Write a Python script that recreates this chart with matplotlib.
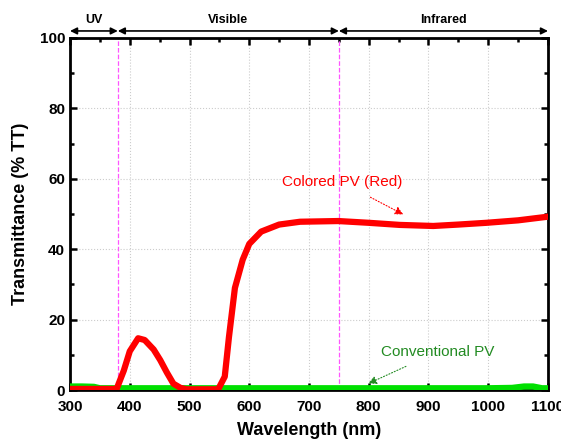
import matplotlib
matplotlib.use("Agg")
from matplotlib import pyplot as plt
from matplotlib.ticker import MultipleLocator

plt.rcParams['font.family'] = ['Liberation Sans', 'DejaVu Sans']

# Colored PV (red) transmittance
red_wl = [300, 340, 378, 390, 400, 414, 425, 440, 451, 462, 473, 485, 495, 520, 548,
          559, 566, 576, 589, 600, 620, 650, 685, 749, 800, 852, 908, 950, 997, 1050, 1098]
red_t = [0.3, 0.3, 0.3, 5.5, 11.0, 14.7, 14.2, 11.5, 8.5, 5.0, 1.8, 0.6, 0.2, 0.2, 0.2,
         3.8, 15.0, 29.0, 37.0, 41.5, 45.0, 47.0, 47.8, 48.0, 47.5, 46.9, 46.6, 47.0, 47.5, 48.2, 49.2]

# Conventional PV (green)
green_wl = [300, 320, 340, 350, 400, 500, 600, 700, 800, 900, 1000, 1040, 1060, 1075, 1090, 1100]
green_t = [1.0, 1.0, 0.9, 0.5, 0.5, 0.5, 0.5, 0.5, 0.5, 0.5, 0.5, 0.6, 1.0, 1.0, 0.5, 0.5]

band_edges = [300, 380, 750, 1100]
band_names = ['UV', 'Visible', 'Infrared']

fig = plt.figure(figsize=(5.61, 4.47), dpi=100)
ax = fig.add_axes([0.1248, 0.1275, 0.852, 0.7875])

ax.plot(green_wl, green_t, color='#00e000', lw=4.5, zorder=3)
ax.plot(red_wl, red_t, color='#ff0000', lw=4.5, zorder=4)

for edge in band_edges[1:3]:
    ax.axvline(edge, color='#ff55ff', ls='--', lw=0.9, zorder=2)

ax.set_xlim(300, 1100)
ax.set_ylim(0, 100)
ax.xaxis.set_major_locator(MultipleLocator(100))
ax.xaxis.set_minor_locator(MultipleLocator(50))
ax.yaxis.set_major_locator(MultipleLocator(20))
ax.yaxis.set_minor_locator(MultipleLocator(10))
ax.tick_params(which='both', direction='in', top=True, right=True, width=1.8)
ax.tick_params(which='major', length=5, labelsize=11)
ax.tick_params(axis='x', which='major', pad=7)
ax.tick_params(which='minor', length=3)
for lab in ax.get_xticklabels() + ax.get_yticklabels():
    lab.set_fontweight('bold')
for sp in ax.spines.values():
    sp.set_linewidth(2)
ax.grid(True, which='major', color='#cccccc', ls=':', lw=0.8)

ax.set_xlabel('Wavelength (nm)', fontsize=13, fontweight='bold', labelpad=6)
ax.set_ylabel('Transmittance (% TT)', fontsize=13, fontweight='bold', labelpad=8)

# band arrows above the plot
for i, name in enumerate(band_names):
    a, b = band_edges[i], band_edges[i + 1]
    ax.annotate('', xy=(a, 102), xytext=(b, 102), xycoords='data',
                arrowprops=dict(arrowstyle='<|-|>', color='black', lw=1.2,
                                shrinkA=0, shrinkB=0, mutation_scale=10),
                annotation_clip=False)
    ax.text((a + b) / 2, 103.3, name, ha='center', va='bottom',
            fontsize=9, fontweight='bold', clip_on=False)

ax.annotate('Colored PV (Red)', xy=(862, 49.5), xytext=(755, 59.0),
            color='#ff0000', fontsize=11, ha='center', va='center',
            arrowprops=dict(arrowstyle='-|>', color='#ff0000', ls=':', lw=0.8,
                            mutation_scale=12, shrinkA=8))
ax.annotate('Conventional PV', xy=(795, 1.5), xytext=(915, 10.8),
            color='#228b22', fontsize=11, ha='center', va='center',
            arrowprops=dict(arrowstyle='-|>', color='#228b22', ls=':', lw=0.8,
                            mutation_scale=12, shrinkA=8))

fig.savefig('out.png', dpi=100)
